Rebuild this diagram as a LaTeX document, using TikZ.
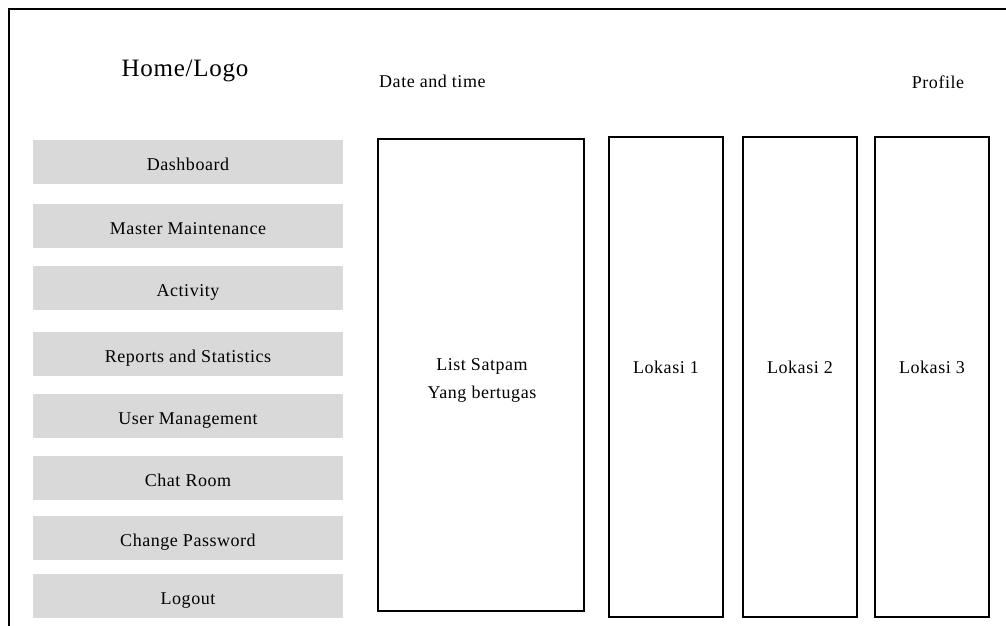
\documentclass[tikz,border=0pt]{standalone}
\usepackage{fontspec}
\setmainfont[LetterSpace=3]{Liberation Serif}
\definecolor{menugray}{HTML}{D9D9D9}
\begin{document}
\begin{tikzpicture}[x=1pt,y=-1pt,
  menubtn/.style={fill=menugray, minimum width=310pt, minimum height=44pt,
    inner sep=0pt, text height=16pt, text depth=0pt,
    font=\fontsize{18}{20}\selectfont},
  panel/.style={draw=black, line width=1.8pt, inner sep=0pt},
  txt/.style={inner sep=0pt, anchor=base, font=\fontsize{18}{20}\selectfont}]
\useasboundingbox (0,0) rectangle (1006,625);

% page frame (open to the right and bottom)
\coordinate (fbl) at (9,626);
\coordinate (ftl) at (9,9);
\coordinate (ftr) at (1007,9);
\draw[line width=1.8pt] (fbl) -- (ftl) -- (ftr);

% header
\node[txt, font=\fontsize{25}{28}\selectfont] (logo) at (185,76) {Home/Logo};
\node[txt, anchor=base west] (date) at (379,87.5) {Date and time};
\node[txt] (profile) at (938,88) {Profile};

% side menu
\node[menubtn] (m1) at (188,162) {Dashboard};
\node[menubtn] (m2) at (188,226) {Master Maintenance};
\node[menubtn] (m3) at (188,288) {Activity};
\node[menubtn] (m4) at (188,354) {Reports and Statistics};
\node[menubtn] (m5) at (188,416) {User Management};
\node[menubtn] (m6) at (188,478) {Chat Room};
\node[menubtn] (m7) at (188,538) {Change Password};
\node[menubtn] (m8) at (188,596) {Logout};

% content panels
\node[panel, minimum width=206pt, minimum height=472pt] (guards) at (481,375) {};
\node[panel, minimum width=114pt, minimum height=480pt] (loc1) at (666,377) {};
\node[panel, minimum width=114pt, minimum height=480pt] (loc2) at (800,377) {};
\node[panel, minimum width=114pt, minimum height=480pt] (loc3) at (932,377) {};

\node[txt] (guardsa) at (482,370.7) {List Satpam};
\node[txt] (guardsb) at (482,398) {Yang bertugas};
\node[txt] (loc1txt) at (666,373.3) {Lokasi 1};
\node[txt] (loc2txt) at (800,373.3) {Lokasi 2};
\node[txt] (loc3txt) at (932,373.3) {Lokasi 3};
\end{tikzpicture}
\end{document}
